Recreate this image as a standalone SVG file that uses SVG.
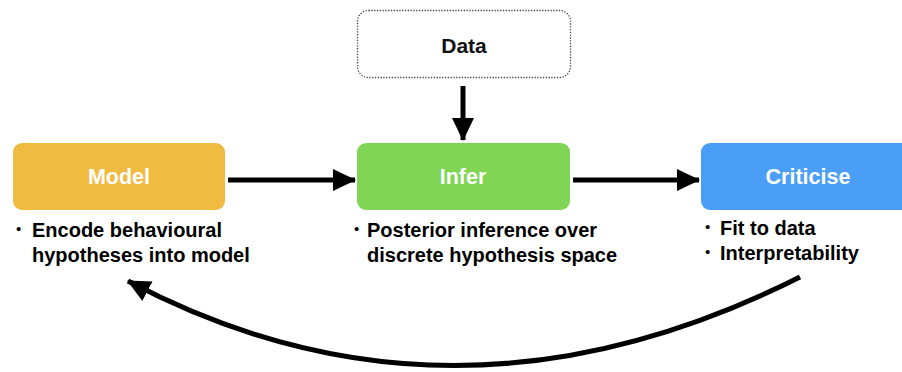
<svg xmlns="http://www.w3.org/2000/svg" width="902" height="372" viewBox="0 0 902 372">
<style>
.lbl{font-family:"Liberation Sans",Arial,sans-serif;font-weight:bold;font-size:21.5px;fill:#fff;text-anchor:middle}
.dl{font-family:"Liberation Sans",Arial,sans-serif;font-weight:bold;font-size:21px;fill:#111;text-anchor:middle}
.bt{font-family:"Liberation Sans",Arial,sans-serif;font-weight:bold;font-size:20px;fill:#000}
.bu{font-family:"Liberation Sans",Arial,sans-serif;font-size:15px;fill:#000}
.conn{stroke:#000;stroke-width:5;fill:none}
</style>
<defs>
<marker id="ah" markerUnits="userSpaceOnUse" markerWidth="24" markerHeight="24" refX="22" refY="12" orient="auto">
<path d="M0,1 L23,12 L0,23 Z" fill="#000"/>
</marker>
</defs>
<g id="data">
<rect x="357.5" y="10.5" width="213" height="67" rx="11" fill="#fff" stroke="#444" stroke-width="1.3" stroke-dasharray="1.3,1.5"/>
<text class="dl" x="464" y="53">Data</text>
</g>
<g id="model">
<rect x="13" y="143" width="212" height="67" rx="9" fill="#EFBB41"/>
<text class="lbl" x="119" y="184">Model</text>
<text class="bu" x="16" y="234">•</text>
<text class="bt" x="32" y="237">Encode behavioural</text>
<text class="bt" x="32" y="262">hypotheses into model</text>
</g>
<g id="infer">
<rect x="357" y="143" width="213" height="67" rx="9" fill="#80D555"/>
<text class="lbl" x="463" y="184">Infer</text>
<text class="bu" x="354" y="234">•</text>
<text class="bt" x="367" y="237">Posterior inference over</text>
<text class="bt" x="367" y="262">discrete hypothesis space</text>
</g>
<g id="criticise">
<rect x="701" y="143" width="220" height="67" rx="9" fill="#4A9EF5"/>
<text class="lbl" x="808" y="184">Criticise</text>
<text class="bu" x="705" y="232">•</text>
<text class="bt" x="720" y="235">Fit to data</text>
<text class="bu" x="705" y="257">•</text>
<text class="bt" x="720" y="260">Interpretability</text>
</g>
<g id="connectors">
<line class="conn" x1="463" y1="86" x2="463" y2="140" marker-end="url(#ah)"/>
<line class="conn" x1="228" y1="180" x2="355" y2="180" marker-end="url(#ah)"/>
<line class="conn" x1="573" y1="180" x2="699" y2="180" marker-end="url(#ah)"/>
<path class="conn" d="M800,277 Q452,452 128,281" marker-end="url(#ah)"/>
</g>
</svg>
